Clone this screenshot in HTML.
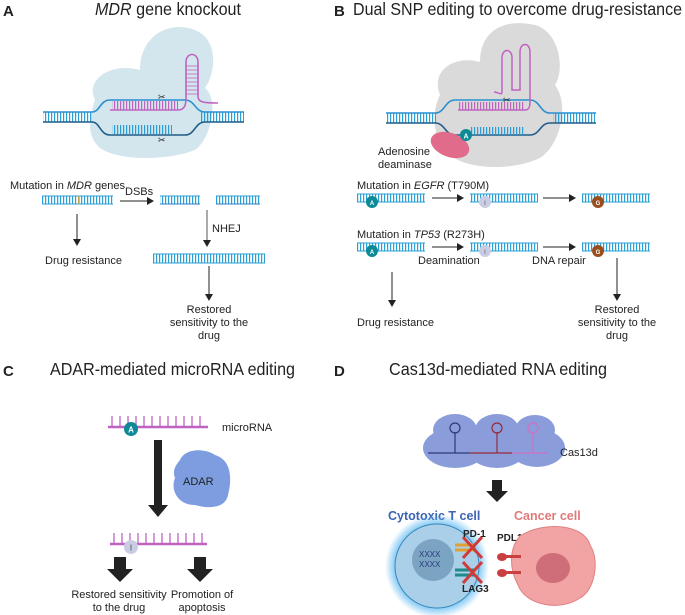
<!DOCTYPE html>
<html><head><meta charset="utf-8"><style>
html,body{margin:0;padding:0;background:#fff;}
svg{display:block;font-family:"Liberation Sans",sans-serif;}
</style></head><body>
<svg width="685" height="615" viewBox="0 0 685 615" xmlns="http://www.w3.org/2000/svg">
<defs>
<pattern id="rungs" width="3" height="10" patternUnits="userSpaceOnUse"><rect x="0" y="0" width="1.2" height="10" fill="#2a9fd6"/></pattern>
<pattern id="prungs" width="3" height="10" patternUnits="userSpaceOnUse"><rect x="0" y="0" width="1.2" height="10" fill="#c063c0"/></pattern>
<marker id="ah" markerWidth="8" markerHeight="8" refX="6" refY="4" orient="auto" markerUnits="userSpaceOnUse"><path d="M0,0 L7,4 L0,8 Z" fill="#222"/></marker>
<radialGradient id="glow"><stop offset="0.75" stop-color="#4fb3f0" stop-opacity="0.9"/><stop offset="1" stop-color="#4fb3f0" stop-opacity="0"/></radialGradient>
</defs>
<g font-size="11" fill="#222">
<!-- Panel A -->
<text x="3" y="16" font-weight="bold" font-size="15">A</text>
<text x="95" y="15" font-size="17.5" textLength="146" lengthAdjust="spacingAndGlyphs"><tspan font-style="italic">MDR</tspan> gene knockout</text>
<path d="M95,100 C85,80 110,62 140,70 C140,35 170,20 195,30 C220,40 215,75 205,88 C220,100 210,140 195,150 C170,160 120,162 100,148 C85,135 90,115 95,100Z" fill="#cfe3eb" opacity="0.9"/>
<rect x="43" y="112" width="50" height="10" fill="url(#rungs)"/>
<rect x="200" y="112" width="44" height="10" fill="url(#rungs)"/>
<path d="M43,112 L92,112 C100,112 100,100 110,100 L185,100 C195,100 195,112 205,112 L244,112" stroke="#2a8fd0" stroke-width="1.6" fill="none"/>
<path d="M43,122 L92,122 C100,122 100,135 110,135 L185,135 C195,135 195,122 205,122 L244,122" stroke="#1f5c8a" stroke-width="1.6" fill="none"/>
<rect x="112" y="125" width="60" height="9" fill="url(#rungs)"/>
<rect x="112" y="101" width="66" height="9" fill="url(#prungs)"/>
<path d="M110,110 L178,110 C185,110 186,104 186,98 L186,62 C186,52 198,52 198,62 L198,96 C198,102 202,103 218,103" stroke="#c063c0" stroke-width="1.6" fill="none"/>
<g stroke="#c063c0" stroke-width="0.8"><line x1="186" y1="66" x2="198" y2="66"/><line x1="186" y1="70" x2="198" y2="70"/><line x1="186" y1="74" x2="198" y2="74"/><line x1="186" y1="78" x2="198" y2="78"/><line x1="186" y1="82" x2="198" y2="82"/><line x1="186" y1="86" x2="198" y2="86"/><line x1="186" y1="90" x2="198" y2="90"/><line x1="186" y1="94" x2="198" y2="94"/></g>
<text x="158" y="100" font-size="9">✂</text><text x="158" y="143" font-size="9">✂</text>
<text x="10" y="189">Mutation in <tspan font-style="italic">MDR</tspan> genes</text>
<rect x="42" y="196" width="71" height="8" fill="url(#rungs)"/><line x1="42" y1="196" x2="113" y2="196" stroke="#2a9fd6"/><line x1="42" y1="204" x2="113" y2="204" stroke="#2a9fd6"/>
<line x1="79" y1="196" x2="79" y2="204" stroke="#f0a020" stroke-width="1.5"/>
<line x1="120" y1="201" x2="153" y2="201" stroke="#222" marker-end="url(#ah)"/><text x="125" y="195">DSBs</text>
<rect x="160" y="196" width="40" height="8" fill="url(#rungs)"/><line x1="160" y1="196" x2="200" y2="196" stroke="#2a9fd6"/><line x1="160" y1="204" x2="200" y2="204" stroke="#2a7fc6"/>
<rect x="216" y="196" width="44" height="8" fill="url(#rungs)"/><line x1="216" y1="196" x2="260" y2="196" stroke="#2a9fd6"/><line x1="216" y1="204" x2="260" y2="204" stroke="#2a7fc6"/>
<line x1="77" y1="214" x2="77" y2="245" stroke="#222" marker-end="url(#ah)"/>
<text x="45" y="264">Drug resistance</text>
<line x1="207" y1="210" x2="207" y2="246" stroke="#555" marker-end="url(#ah)"/><text x="212" y="232">NHEJ</text>
<rect x="153" y="254" width="112" height="9" fill="url(#rungs)"/><line x1="153" y1="254" x2="265" y2="254" stroke="#2a9fd6"/><line x1="153" y1="263" x2="265" y2="263" stroke="#2a9fd6"/>
<line x1="209" y1="266" x2="209" y2="300" stroke="#222" marker-end="url(#ah)"/>
<text x="209" y="313" text-anchor="middle">Restored</text><text x="209" y="326" text-anchor="middle">sensitivity to the</text><text x="209" y="339" text-anchor="middle">drug</text>

<!-- Panel B -->
<text x="334" y="16" font-weight="bold" font-size="15">B</text>
<text x="353" y="15" font-size="17.5" textLength="329" lengthAdjust="spacingAndGlyphs">Dual SNP editing to overcome drug-resistance</text>
<path d="M440,95 C430,70 455,55 480,62 C480,30 505,18 535,25 C560,32 565,70 555,85 C570,105 560,145 540,158 C510,172 460,170 445,150 C432,135 432,110 440,95Z" fill="#dadada"/>
<rect x="386" y="113" width="50" height="10" fill="url(#rungs)"/>
<rect x="553" y="113" width="42" height="10" fill="url(#rungs)"/>
<path d="M386,113 L435,113 C445,113 445,100 455,100 L530,100 C540,100 540,113 550,113 L596,113" stroke="#2a8fd0" stroke-width="1.6" fill="none"/>
<path d="M386,123 L435,123 C445,123 445,135 455,135 L530,135 C540,135 540,123 550,123 L596,123" stroke="#1f5c8a" stroke-width="1.6" fill="none"/>
<rect x="470" y="127" width="55" height="8" fill="url(#rungs)"/>
<rect x="459" y="102" width="66" height="8" fill="url(#prungs)"/>
<path d="M458,110 L525,110 C530,110 530,105 530,100 L530,52 C530,42 520,42 520,52 L520,90 L512,90 L512,58 C512,48 502,48 502,58 L502,92 C502,96 498,92 494,92" stroke="#c063c0" stroke-width="1.5" fill="none"/>
<text x="503" y="103" font-size="9">✂</text>
<ellipse cx="450" cy="145" rx="20" ry="12" fill="#e06b8a" transform="rotate(20 450 145)"/>
<circle cx="466" cy="135" r="6" fill="#0d8a96"/><text x="466" y="138.5" font-size="7" fill="#fff" text-anchor="middle" font-weight="bold">A</text>
<text x="378" y="155">Adenosine</text><text x="378" y="168">deaminase</text>
<text x="357" y="189">Mutation in <tspan font-style="italic">EGFR</tspan> (T790M)</text>
<text x="357" y="238">Mutation in <tspan font-style="italic">TP53</tspan> (R273H)</text>
<g id="row1">
<rect x="357" y="194" width="68" height="8" fill="url(#rungs)"/><line x1="357" y1="194" x2="425" y2="194" stroke="#2a9fd6"/><line x1="357" y1="202" x2="425" y2="202" stroke="#2a9fd6"/>
<rect x="470" y="194" width="68" height="8" fill="url(#rungs)"/><line x1="470" y1="194" x2="538" y2="194" stroke="#2a9fd6"/><line x1="470" y1="202" x2="538" y2="202" stroke="#2a9fd6"/>
<rect x="582" y="194" width="68" height="8" fill="url(#rungs)"/><line x1="582" y1="194" x2="650" y2="194" stroke="#2a9fd6"/><line x1="582" y1="202" x2="650" y2="202" stroke="#2a9fd6"/>
<circle cx="372" cy="202" r="6" fill="#0d8a96"/><text x="372" y="205" font-size="6" fill="#fff" text-anchor="middle" font-weight="bold">A</text>
<circle cx="485" cy="202" r="6" fill="#c9cde3"/><text x="485" y="205" font-size="6" fill="#555" text-anchor="middle">I</text>
<circle cx="598" cy="202" r="6" fill="#9a4e1e"/><text x="598" y="205" font-size="6" fill="#fff" text-anchor="middle" font-weight="bold">G</text>
<line x1="432" y1="198" x2="463" y2="198" stroke="#222" marker-end="url(#ah)"/>
<line x1="543" y1="198" x2="575" y2="198" stroke="#222" marker-end="url(#ah)"/>
</g>
<use href="#row1" y="49"/>
<text x="418" y="264">Deamination</text><text x="532" y="264">DNA repair</text>
<line x1="392" y1="272" x2="392" y2="306" stroke="#222" marker-end="url(#ah)"/>
<text x="357" y="326">Drug resistance</text>
<line x1="617" y1="258" x2="617" y2="300" stroke="#222" marker-end="url(#ah)"/>
<text x="617" y="313" text-anchor="middle">Restored</text><text x="617" y="326" text-anchor="middle">sensitivity to the</text><text x="617" y="339" text-anchor="middle">drug</text>

<!-- Panel C -->
<text x="3" y="376" font-weight="bold" font-size="15">C</text>
<text x="50" y="375" font-size="17.5" textLength="245" lengthAdjust="spacingAndGlyphs">ADAR-mediated microRNA editing</text>
<g stroke="#c063c0" stroke-width="1.3">
<line x1="108" y1="427" x2="208" y2="427" stroke-width="2.5"/>
<path d="M112,416v11M120,416v11M128,416v11M136,416v11M144,416v11M152,416v11M160,416v11M168,416v11M176,416v11M184,416v11M192,416v11M200,416v11"/>
<line x1="110" y1="544" x2="207" y2="544" stroke-width="2.5"/>
<path d="M114,533v11M122,533v11M130,533v11M138,533v11M146,533v11M154,533v11M162,533v11M170,533v11M178,533v11M186,533v11M194,533v11M202,533v11"/>
</g>
<circle cx="131" cy="429" r="7" fill="#0d8a96"/><text x="131" y="432.5" font-size="8" fill="#fff" text-anchor="middle" font-weight="bold">A</text>
<circle cx="131" cy="547" r="7" fill="#c9cde3"/><text x="131" y="550.5" font-size="8" fill="#444" text-anchor="middle">I</text>
<text x="222" y="431">microRNA</text>
<path d="M154,440 h8 v65 h6 l-10,12 l-10,-12 h6 Z" fill="#222"/>
<path d="M180,460 C185,448 205,448 215,455 C232,460 232,480 228,495 C225,510 205,508 195,505 C178,505 170,490 175,478 C172,470 176,465 180,460Z" fill="#7d9de0"/>
<text x="183" y="485" font-size="11">ADAR</text>
<path d="M114,557 h12 v12 h7 l-13,13 l-13,-13 h7 Z" fill="#222"/>
<path d="M194,557 h12 v12 h7 l-13,13 l-13,-13 h7 Z" fill="#222"/>
<text x="119" y="598" text-anchor="middle">Restored sensitivity</text><text x="119" y="611" text-anchor="middle">to the drug</text>
<text x="202" y="598" text-anchor="middle">Promotion of</text><text x="202" y="611" text-anchor="middle">apoptosis</text>

<!-- Panel D -->
<text x="334" y="376" font-weight="bold" font-size="15">D</text>
<text x="389" y="375" font-size="17.5" textLength="218" lengthAdjust="spacingAndGlyphs">Cas13d-mediated RNA editing</text>
<g fill="#7e92d6" opacity="0.9">
<ellipse cx="455" cy="448" rx="32" ry="20"/><ellipse cx="455" cy="430" rx="22" ry="16"/>
<ellipse cx="497" cy="448" rx="30" ry="20"/><ellipse cx="497" cy="430" rx="22" ry="16"/>
<ellipse cx="537" cy="448" rx="28" ry="19"/><ellipse cx="535" cy="430" rx="20" ry="15"/>
</g>
<g fill="none" stroke-width="1.2">
<path d="M428,453 H470 M455,453 V432" stroke="#2a3a7a"/><circle cx="455" cy="428" r="5" stroke="#2a3a7a"/>
<path d="M470,453 H512 M497,453 V432" stroke="#9a2a3a"/><circle cx="497" cy="428" r="5" stroke="#9a2a3a"/>
<path d="M512,453 H548 M533,453 V432" stroke="#d070c0"/><circle cx="533" cy="428" r="5" stroke="#d070c0"/>
</g>
<text x="560" y="456">Cas13d</text>
<path d="M492,480 h10 v11 h6 l-11,11 l-11,-11 h6 Z" fill="#222"/>
<text x="388" y="520" font-size="12.5" font-weight="bold" fill="#3d63b5">Cytotoxic T cell</text>
<text x="514" y="520" font-size="12.5" font-weight="bold" fill="#e07a7a">Cancer cell</text>
<circle cx="437" cy="566" r="52" fill="url(#glow)"/>
<circle cx="437" cy="566" r="42" fill="#a9cfe9" stroke="#3a86b8" stroke-width="1"/>
<circle cx="433" cy="560" r="21" fill="#7aa4c2"/>
<text x="419" y="557" font-size="8" fill="#2a3a7a">XXXX</text><text x="419" y="567" font-size="8" fill="#2a3a7a">XXXX</text>
<path d="M455,545 L475,545 M455,550 L475,550" stroke="#e0a030" stroke-width="3"/>
<path d="M455,570 L475,570 M455,575 L475,575" stroke="#1f8a8a" stroke-width="3"/>
<path d="M463,537 L482,558 M482,537 L463,558 M463,562 L482,583 M482,562 L463,583" stroke="#d03a3a" stroke-width="3"/>
<text x="463" y="537" font-size="10" font-weight="bold">PD-1</text>
<text x="462" y="592" font-size="10" font-weight="bold">LAG3</text>
<text x="497" y="541" font-size="10" font-weight="bold">PDL1</text>
<path d="M520,536 C545,520 585,525 590,545 C600,560 595,590 580,598 C560,612 525,605 518,585 C510,570 508,550 520,536Z" fill="#f2a3a3" stroke="#e08080"/>
<ellipse cx="553" cy="568" rx="17" ry="15" fill="#cf6e78"/>
<g fill="#c94040"><ellipse cx="502" cy="557" rx="5" ry="4"/><ellipse cx="502" cy="573" rx="5" ry="4"/><rect x="505" y="555" width="16" height="3"/><rect x="505" y="571" width="16" height="3"/></g>
</g>
</svg>
</body></html>
